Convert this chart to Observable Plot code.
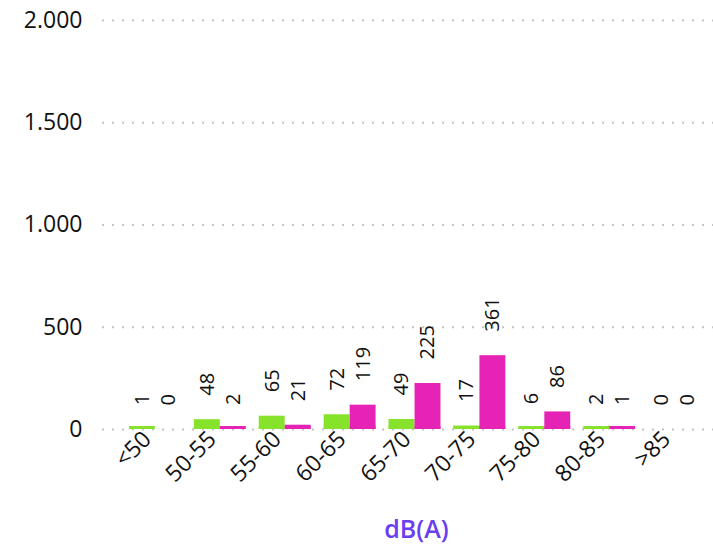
<!DOCTYPE html>
<html>
<head>
<meta charset="utf-8">
<script src="https://cdn.jsdelivr.net/npm/d3@7"></script>
<script src="https://cdn.jsdelivr.net/npm/@observablehq/plot@0.6"></script>
<style>
  html, body { margin: 0; padding: 0; background: #fff; }
  #chart { width: 713px; height: 500px; }
  #xtitle { width: 713px; text-align: center; font-family: "Open Sans", sans-serif; font-size: 25px; font-weight: 600; color: #6a3ff0; line-height: 30px; padding-left: 120px; padding-top: 13px; box-sizing: border-box; }
</style>
</head>
<body>
<div id="chart"></div>
<div id="xtitle">dB(A)</div>
<script>
const categories = ["<50", "50-55", "55-60", "60-65", "65-70", "70-75", "75-80", "80-85", ">85"];
const seriesA = [1, 48, 65, 72, 49, 17, 6, 2, 0];      // green
const seriesB = [0, 2, 21, 119, 225, 361, 86, 1, 0];   // pink
const yTicks = [0, 500, 1000, 1500, 2000];
const xTitle = "dB(A)";

const green = "#86e22a";
const pink = "#e524b6";

const dataA = categories.map((c, i) => ({cat: c, v: seriesA[i]}));
const dataB = categories.map((c, i) => ({cat: c, v: seriesB[i]}));

const fmt = d3.formatLocale({decimal: ",", thousands: ".", grouping: [3], currency: ["", "€"]}).format(",");

const half = 26;

const plot = Plot.plot({
  width: 713,
  height: 500,
  marginTop: 20,
  marginLeft: 116,
  marginRight: 0,
  marginBottom: 71,
  style: {fontFamily: "'Open Sans', sans-serif", fontSize: "22px", color: "#111", background: "transparent"},
  x: {domain: categories, padding: 0.2, round: false, label: null},
  y: {domain: [0, 2000], label: null},
  marks: [
    Plot.ruleY(yTicks, {stroke: "#c4c4c4", strokeWidth: 2, strokeDasharray: "2,8", insetLeft: -14}),
    Plot.barY(dataA, {x: "cat", y: "v", fill: green, insetRight: half}),
    Plot.barY(dataB, {x: "cat", y: "v", fill: pink, insetLeft: half}),
    Plot.barY(dataA, {filter: d => d.v > 0, x: "cat", y1: 0, y2: 0, insetTop: -3, fill: green, insetRight: half}),
    Plot.barY(dataB, {filter: d => d.v > 0, x: "cat", y1: 0, y2: 0, insetTop: -3, fill: pink, insetLeft: half}),
    Plot.text(dataA, {x: "cat", y: "v", text: d => fmt(d.v), rotate: -90, textAnchor: "start", lineAnchor: "middle", dx: -13, dy: -24, fontSize: 20, fill: "#111"}),
    Plot.text(dataB, {x: "cat", y: "v", text: d => fmt(d.v), rotate: -90, textAnchor: "start", lineAnchor: "middle", dx: 13, dy: -24, fontSize: 20, fill: "#111"}),
    Plot.axisY({ticks: yTicks, tickFormat: fmt, tickSize: 0, tickPadding: 34, fontSize: 23, fill: "#111", label: null}),
    Plot.axisX({tickSize: 0, tickPadding: 6, tickRotate: -45, dx: -8, fontSize: 23, fill: "#111", label: null})
  ]
});
document.getElementById("chart").appendChild(plot);
document.getElementById("xtitle").textContent = xTitle;
</script>
</body>
</html>
